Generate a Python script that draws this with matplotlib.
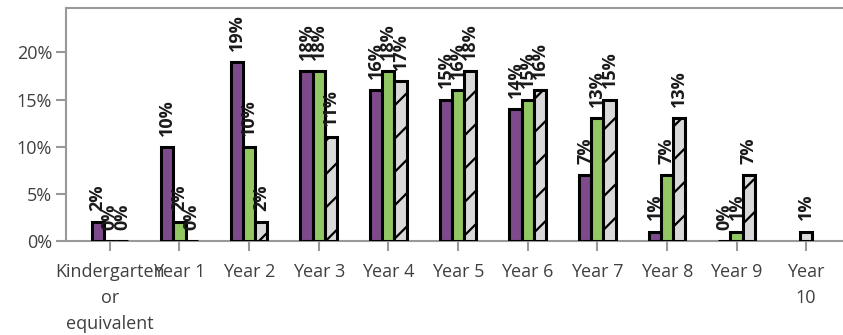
import matplotlib
matplotlib.use("Agg")
from matplotlib import pyplot as plt
import numpy as np

categories = ["Kindergarten\nor\nequivalent", "Year 1", "Year 2", "Year 3", "Year 4",
              "Year 5", "Year 6", "Year 7", "Year 8", "Year 9", "Year\n10"]
series_a = [2, 10, 19, 18, 16, 15, 14, 7, 1, 0, np.nan]
series_b = [0, 2, 10, 18, 18, 16, 15, 13, 7, 1, np.nan]
series_c = [0, 0, 2, 11, 17, 18, 16, 15, 13, 7, 1]

plt.rcParams['font.family'] = ['Open Sans', 'DejaVu Sans']
plt.rcParams['hatch.linewidth'] = 1.6

fig = plt.figure(figsize=(8.43, 3.35), dpi=100)
ax = fig.add_axes([66/843, 1-241/335, 784/843, 233/335])

colors = ["#7E4A8C", "#93C763", "#D9D9D9"]
hatches = [None, None, "/"]
all_series = [series_a, series_b, series_c]
w = 0.175

for i in range(len(categories)):
    present = [s for s in range(3) if not np.isnan(all_series[s][i])]
    n = len(present)
    for k, s in enumerate(present):
        v = all_series[s][i]
        xpos = i + (k - (n - 1) / 2) * w
        ax.bar(xpos, v, w, color=colors[s], edgecolor="black", linewidth=2.2,
               hatch=hatches[s], zorder=3)
        ax.annotate("%d%%" % v, (xpos, v), xytext=(0, 8), textcoords="offset points",
                    rotation=90, ha="center", va="bottom",
                    fontsize=13, fontweight="bold", color="#1a1a1a", zorder=4)

ax.set_xlim(-0.63, 10.63)
ax.set_ylim(0, 24.7)
ax.set_yticks([0, 5, 10, 15, 20])
ax.set_yticklabels(["0%", "5%", "10%", "15%", "20%"])
ax.set_xticks(range(len(categories)))
ax.set_xticklabels(categories, linespacing=1.55)
ax.tick_params(axis="both", colors="#999999", labelcolor="#404040", labelsize=13,
               length=7, width=1.5)
ax.tick_params(axis="x", pad=9)
ax.tick_params(axis="y", pad=3)
for side in ["left", "top", "bottom"]:
    ax.spines[side].set_color("#999999")
    ax.spines[side].set_linewidth(1.5)
ax.spines["right"].set_visible(False)

fig.savefig("out.png", dpi=100)
